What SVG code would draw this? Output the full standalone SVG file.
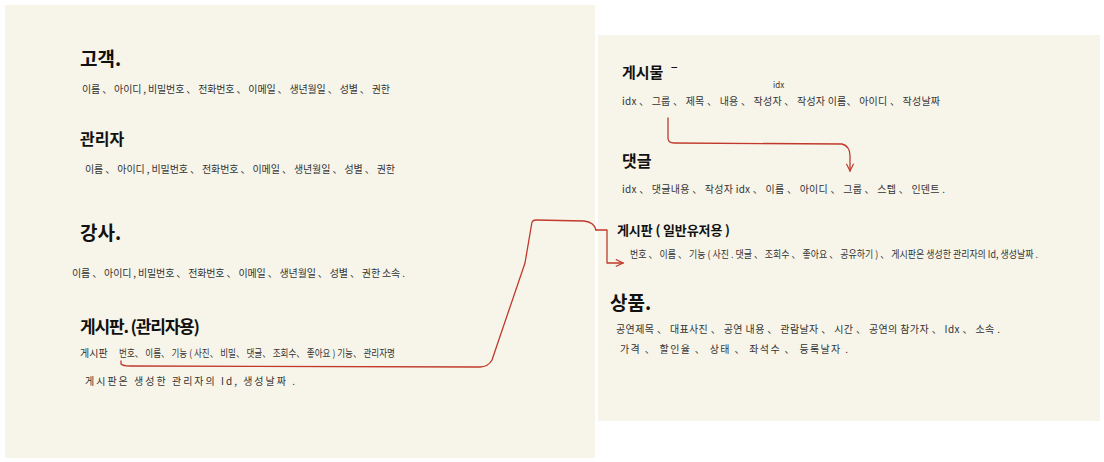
<svg xmlns="http://www.w3.org/2000/svg" width="1104" height="462" viewBox="0 0 1104 462">
<defs>
<style>
.panel{fill:#f7f5ea}
.h{font-family:"Noto Sans CJK KR","Noto Sans",sans-serif;font-weight:700;fill:#111}
.b{font-family:"Noto Sans CJK KR","Noto Sans",sans-serif;font-weight:400;font-size:10px;fill:#333}
.s{font-family:"Noto Sans CJK KR","Noto Sans",sans-serif;font-size:8px;fill:#333}
.red{fill:none;stroke:#c0392b;stroke-width:1.3;stroke-linecap:round;stroke-linejoin:round}
</style>
<marker id="chev" viewBox="0 0 10 10" refX="9" refY="5" markerWidth="9" markerHeight="9" orient="auto" markerUnits="userSpaceOnUse">
<path d="M1,1 L9,5 L1,9" fill="none" stroke="#c0392b" stroke-width="1.3"/>
</marker>
</defs>
<rect width="1104" height="462" fill="#ffffff"/>
<rect class="panel" x="5" y="5" width="590" height="453"/>
<rect class="panel" x="598" y="35" width="502" height="386"/>

<g id="customer">
<text class="h" x="80" y="66" font-size="19">고객.</text>
<text class="b" x="82" y="93" textLength="308" lengthAdjust="spacing">이름 、 아이디 , 비밀번호 、 전화번호 、 이메일 、 생년월일 、 성별 、 권한</text>
</g>
<g id="admin">
<text class="h" x="80" y="145" font-size="16">관리자</text>
<text class="b" x="85" y="173" textLength="310" lengthAdjust="spacing">이름 、 아이디 , 비밀번호 、 전화번호 、 이메일 、 생년월일 、 성별 、 권한</text>
</g>
<g id="instructor">
<text class="h" x="80" y="240" font-size="19">강사.</text>
<text class="b" x="72" y="277" textLength="333" lengthAdjust="spacing">이름 、 아이디 , 비밀번호 、 전화번호 、 이메일 、 생년월일 、 성별 、 권한 소속 .</text>
</g>
<g id="board-admin">
<text class="h" x="80" y="333" font-size="17" textLength="120" lengthAdjust="spacing">게시판. (관리자용)</text>
<text class="b" x="80" y="357" font-size="9.5">게시판</text>
<text class="b" x="119" y="357" font-size="9.5" textLength="276" lengthAdjust="spacingAndGlyphs">번호、 이름、 기능 ( 사진、 비밀、 댓글、 조회수、 좋아요 ) 기능、 관리자명</text>
<text class="b" x="85" y="385" textLength="210" lengthAdjust="spacing">게시판은 생성한 관리자의 Id, 생성날짜 .</text>
</g>

<g id="post">
<text class="h" x="622" y="78" font-size="15">게시물 ˉ</text>
<text class="s" x="773" y="88">idx</text>
<text class="b" x="622" y="105" textLength="318" lengthAdjust="spacing">idx 、 그룹 、 제목 、 내용 、 작성자 、 작성자 이름、 아이디 、 작성날짜</text>
</g>
<g id="comment">
<text class="h" x="622" y="167" font-size="16">댓글</text>
<text class="b" x="622" y="193" textLength="323" lengthAdjust="spacing">idx 、 댓글내용 、 작성자 idx 、 이름 、 아이디 、 그룹 、 스텝 、 인덴트 .</text>
</g>
<g id="board-user">
<text class="h" x="617" y="235" font-size="13" textLength="113" lengthAdjust="spacing">게시판 ( 일반유저용 )</text>
<text class="b" x="630" y="258" font-size="9.5" textLength="408" lengthAdjust="spacingAndGlyphs">번호 、 이름 、 기능 ( 사진 . 댓글 、 조회수 、 좋아요 、 공유하기 ) 、 게시판은 생성한 관리자의 Id, 생성날짜 .</text>
</g>
<g id="product">
<text class="h" x="610" y="310" font-size="19">상품.</text>
<text class="b" x="616" y="333" textLength="384" lengthAdjust="spacing">공연제목 、 대표사진 、 공연 내용 、 관람날자 、 시간 、 공연의 참가자 、 Idx 、 소속 .</text>
<text class="b" x="620" y="353" textLength="228" lengthAdjust="spacing">가격 、 할인율 、 상태 、 좌석수 、 등록날자 .</text>
</g>

<g id="connectors">
<path class="red" d="M121,361 L121,364 Q123,366 130,366 L480,367 Q488,367 492,360 L525,263 L532,222 Q533,220 536,220 L584,221 Q594,222 596,230"/>
<path class="red" d="M596,230 L607,230 L607,263 L623,263" marker-end="url(#chev)"/>
<path class="red" d="M668,118 L668,138 Q668,143 674,143 L842,144 Q850,146 850,156 L850,171" marker-end="url(#chev)"/>
</g>
</svg>
